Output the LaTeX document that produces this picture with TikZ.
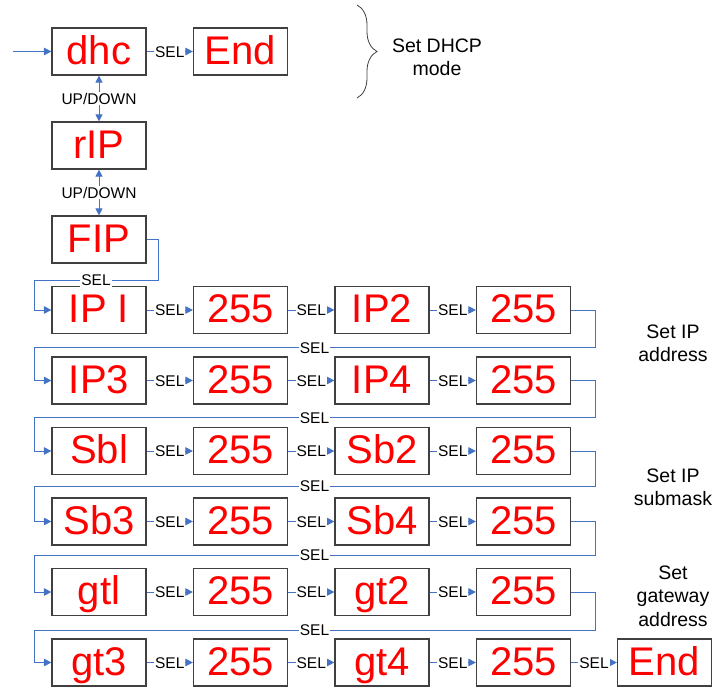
\documentclass[tikz,border=0pt]{standalone}
\usepackage{fontspec}
\setmainfont{Liberation Sans}
\usetikzlibrary{arrows.meta,decorations.pathreplacing}
\definecolor{bleu}{RGB}{68,114,196}
\definecolor{gris}{RGB}{64,64,64}

\begin{document}
\begin{tikzpicture}[x=1pt,y=-1pt]
\tikzset{boite/.style={draw=gris, line width=1.2pt, minimum width=94pt, minimum height=47pt, inner sep=0pt, text=red, font=\fontsize{40}{40}\selectfont, text height=29pt, text depth=4pt}}
\tikzset{etiq/.style={fill=white, inner sep=1pt, font=\fontsize{15.5}{15.5}\selectfont, text height=11pt, text depth=0pt}}
\tikzset{fleche/.style={draw=bleu, line width=1pt, -{Triangle[length=7.5pt,width=7.5pt]}}}
\tikzset{flechedouble/.style={draw=bleu, line width=1pt, {Triangle[length=7pt,width=7pt]}-{Triangle[length=7pt,width=7pt]}}}
\tikzset{texte/.style={align=center, font=\fontsize{19.5}{23.3}\selectfont}}
\useasboundingbox (0,0) rectangle (715,688);
% DHCP
\node[boite] (D1) at (99,51.5) {dhc};
\node[boite] (D2) at (240.5,51.5) {End};
\node[boite] (R) at (99,145.5) {rIP};
\node[boite] (F) at (99,239.5) {FIP};
% IP address
\node[boite] (P1) at (99,310) {IP I};
\node[boite] (P2) at (240.5,310) {255};
\node[boite] (P3) at (382,310) {IP2};
\node[boite] (P4) at (523.5,310) {255};
\node[boite] (Q1) at (99,380.5) {IP3};
\node[boite] (Q2) at (240.5,380.5) {255};
\node[boite] (Q3) at (382,380.5) {IP4};
\node[boite] (Q4) at (523.5,380.5) {255};
% submask
\node[boite] (S1) at (99,451) {Sbl};
\node[boite] (S2) at (240.5,451) {255};
\node[boite] (S3) at (382,451) {Sb2};
\node[boite] (S4) at (523.5,451) {255};
\node[boite] (T1) at (99,521.5) {Sb3};
\node[boite] (T2) at (240.5,521.5) {255};
\node[boite] (T3) at (382,521.5) {Sb4};
\node[boite] (T4) at (523.5,521.5) {255};
% gateway
\node[boite] (G1) at (99,592) {gtl};
\node[boite] (G2) at (240.5,592) {255};
\node[boite] (G3) at (382,592) {gt2};
\node[boite] (G4) at (523.5,592) {255};
\node[boite] (H1) at (99,662.5) {gt3};
\node[boite] (H2) at (240.5,662.5) {255};
\node[boite] (H3) at (382,662.5) {gt4};
\node[boite] (H4) at (523.5,662.5) {255};
\node[boite] (H5) at (664.5,662.5) {End};
% textes
\draw[gris, line width=0.8pt, decorate, decoration={brace, amplitude=20pt}] (357,5) -- (357,98);
\node[texte] (X1) at (437,57) {Set DHCP\\mode};
\node[texte] (X2) at (673,343) {Set IP\\address};
\node[texte] (X3) at (673,487) {Set IP\\submask};
\node[texte] (X4) at (673,596) {Set\\gateway\\address};
% fleches
\coordinate (E) at (13,51.5);
\draw[fleche] (E) -- (D1);
\draw[fleche] (D1) -- node[etiq]{SEL} (D2);
\draw[flechedouble] (D1) -- node[etiq]{UP/DOWN} (R);
\draw[flechedouble] (R) -- node[etiq]{UP/DOWN} (F);
\draw[fleche] (F.east) -| (158,280) -- node[etiq]{SEL} (34,280) |- (P1.west);
\draw[fleche] (P1) -- node[etiq]{SEL} (P2);
\draw[fleche] (P2) -- node[etiq]{SEL} (P3);
\draw[fleche] (P3) -- node[etiq]{SEL} (P4);
\draw[fleche] (P4.east) -| (595,347.7) -- node[etiq]{SEL} (34,347.7) |- (Q1.west);
\draw[fleche] (Q1) -- node[etiq]{SEL} (Q2);
\draw[fleche] (Q2) -- node[etiq]{SEL} (Q3);
\draw[fleche] (Q3) -- node[etiq]{SEL} (Q4);
\draw[fleche] (Q4.east) -| (595,417.7) -- node[etiq]{SEL} (34,417.7) |- (S1.west);
\draw[fleche] (S1) -- node[etiq]{SEL} (S2);
\draw[fleche] (S2) -- node[etiq]{SEL} (S3);
\draw[fleche] (S3) -- node[etiq]{SEL} (S4);
\draw[fleche] (S4.east) -| (595,486) -- node[etiq]{SEL} (34,486) |- (T1.west);
\draw[fleche] (T1) -- node[etiq]{SEL} (T2);
\draw[fleche] (T2) -- node[etiq]{SEL} (T3);
\draw[fleche] (T3) -- node[etiq]{SEL} (T4);
\draw[fleche] (T4.east) -| (595,555) -- node[etiq]{SEL} (34,555) |- (G1.west);
\draw[fleche] (G1) -- node[etiq]{SEL} (G2);
\draw[fleche] (G2) -- node[etiq]{SEL} (G3);
\draw[fleche] (G3) -- node[etiq]{SEL} (G4);
\draw[fleche] (G4.east) -| (595,630) -- node[etiq]{SEL} (34,630) |- (H1.west);
\draw[fleche] (H1) -- node[etiq]{SEL} (H2);
\draw[fleche] (H2) -- node[etiq]{SEL} (H3);
\draw[fleche] (H3) -- node[etiq]{SEL} (H4);
\draw[fleche] (H4) -- node[etiq]{SEL} (H5);
\end{tikzpicture}
\end{document}
